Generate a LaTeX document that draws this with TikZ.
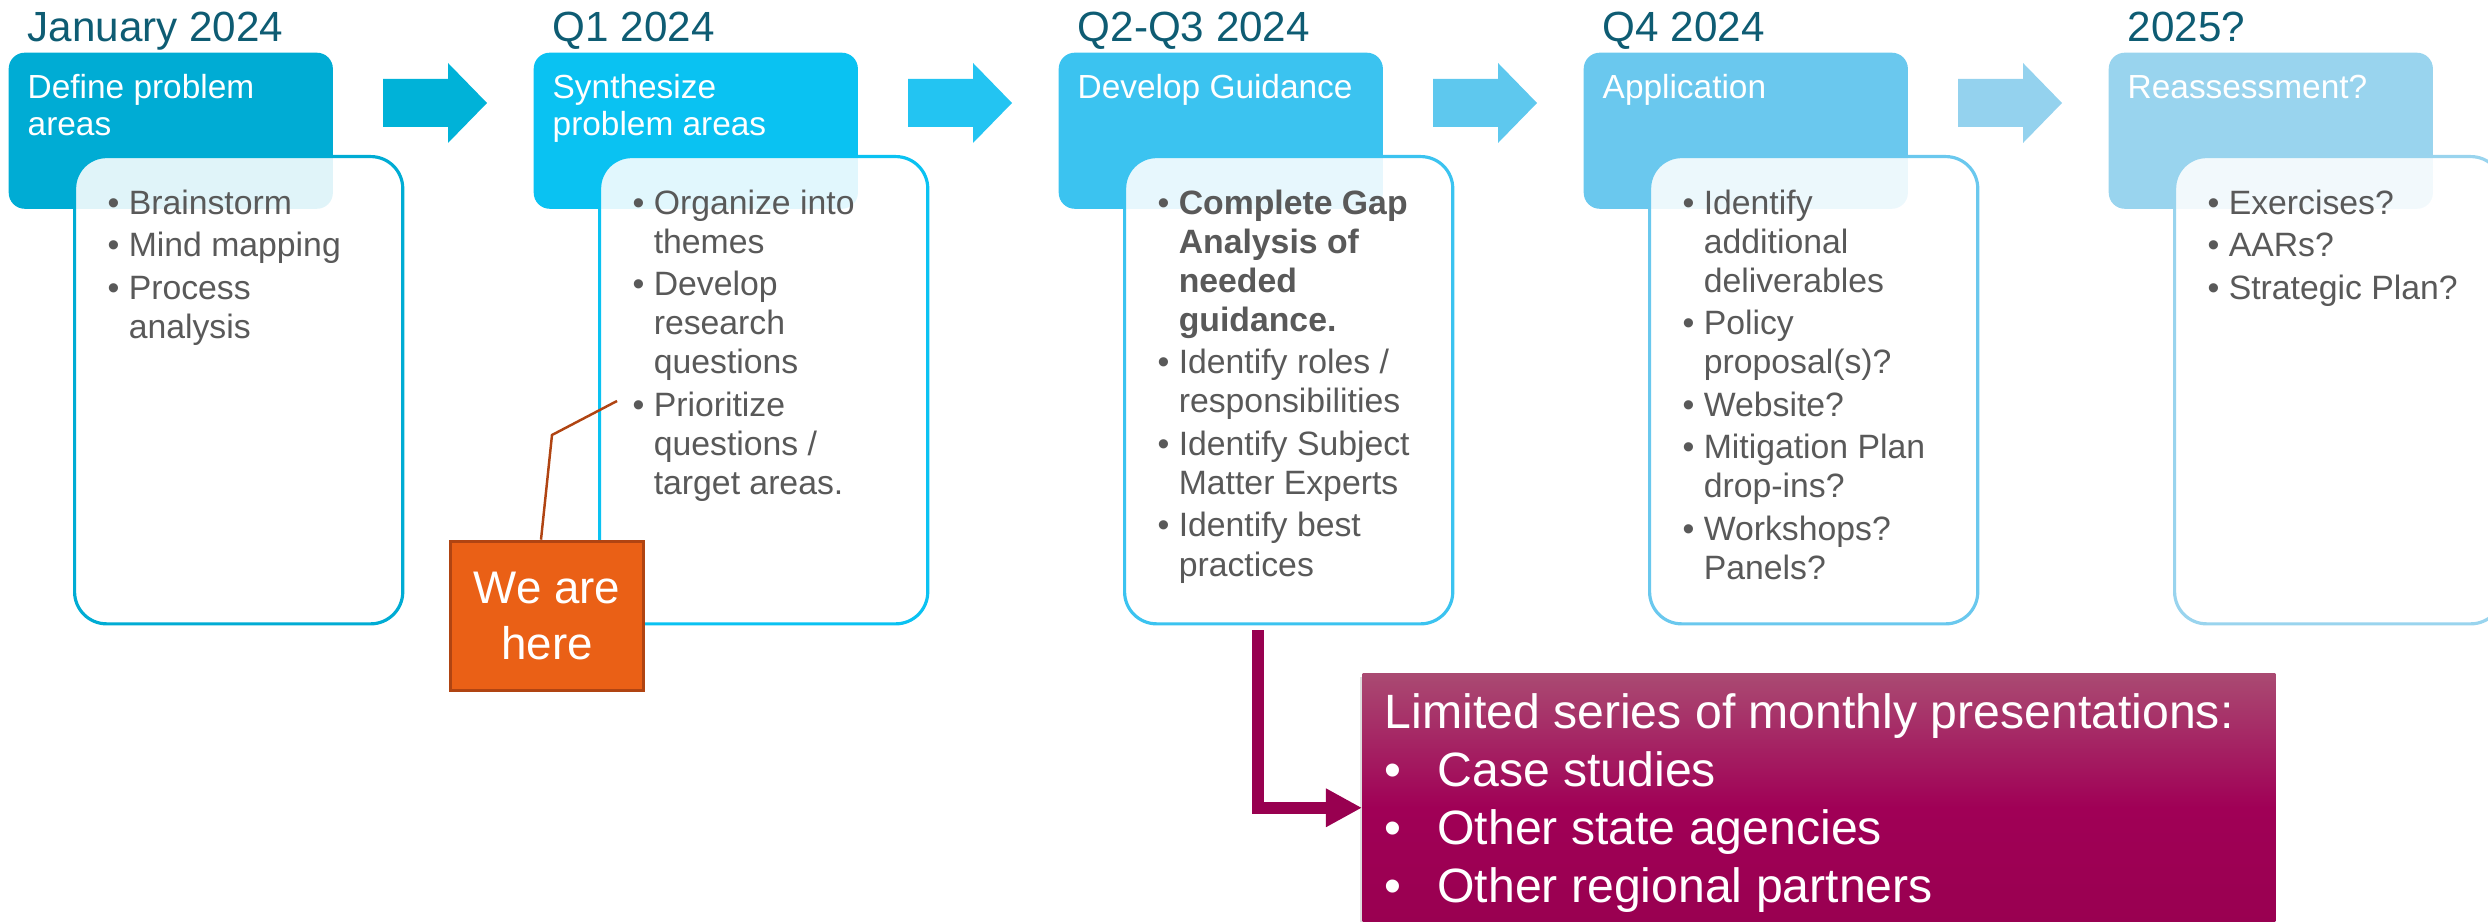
\documentclass[tikz,border=0pt]{standalone}
\usepackage{fontspec}
\setmainfont{Liberation Sans}
\usepackage{tikz}
\usetikzlibrary{arrows.meta,shadows}
\definecolor{dateblue}{RGB}{14,92,115}
\definecolor{stepA}{RGB}{0,172,212}
\definecolor{stepB}{RGB}{10,194,242}
\definecolor{stepC}{RGB}{59,195,240}
\definecolor{stepD}{RGB}{106,200,238}
\definecolor{stepE}{RGB}{153,212,238}
\definecolor{arrAB}{RGB}{0,178,216}
\definecolor{arrBC}{RGB}{35,196,242}
\definecolor{arrCD}{RGB}{94,200,238}
\definecolor{arrDE}{RGB}{148,210,238}
\definecolor{textgray}{RGB}{89,89,89}
\definecolor{hereorange}{RGB}{234,96,22}
\definecolor{hereline}{RGB}{176,68,18}
\definecolor{magtop}{RGB}{170,74,114}
\definecolor{magmid}{RGB}{160,0,86}
\definecolor{magbot}{RGB}{152,0,80}
\newcommand{\itm}{\makebox[6pt][l]{\textbullet}}
\newcommand{\cont}{\hspace*{6pt}}
\newcommand{\mitm}{\makebox[15pt][l]{\textbullet}}

\begin{document}
\begin{tikzpicture}[x=0.01cm,y=-0.01cm,
    date/.style={anchor=base west,inner sep=0,text=dateblue,font=\fontsize{12}{14}\selectfont},
    head/.style={anchor=north west,minimum width=3.24cm,minimum height=1.56cm,rounded corners=0.16cm,inner sep=0},
    headtxt/.style={anchor=north west,inner sep=0,align=left,text=white,font=\fontsize{9.5}{10.5}\selectfont},
    body/.style={anchor=north west,minimum width=3.28cm,minimum height=4.67cm,rounded corners=0.32cm,fill=white,fill opacity=0.88,line width=0.9pt,inner sep=0},
    bodytxt/.style={anchor=north west,inner sep=0,align=left,text=textgray,font=\fontsize{9.6}{11.1}\selectfont}]
  \useasboundingbox (0,0) rectangle (2488,922);

  % block arrows between the steps
  \foreach \x/\c in {8/arrAB,533/arrBC,1058/arrCD,1583/arrDE}
    \fill[\c] (\x+375,79) -- (\x+440,79) -- (\x+440,63) -- (\x+479,103) -- (\x+440,143) -- (\x+440,127) -- (\x+375,127) -- cycle;

  \node[date] (d1) at (27,42) {January 2024};
  \node[head,fill=stepA] (h1) at (8,52) {};
  \node[headtxt] (t1) at (27,74) {Define problem\\areas};
  \node[body,draw=stepA] (b1) at (73,155) {};
  \node[bodytxt] (l1) at (107,189) {\itm Brainstorm\\[1pt] \itm Mind mapping\\[1pt] \itm Process\\ \cont analysis};

  \node[date] (d2) at (552,42) {Q1 2024};
  \node[head,fill=stepB] (h2) at (533,52) {};
  \node[headtxt] (t2) at (552,74) {Synthesize\\problem areas};
  \node[body,draw=stepB] (b2) at (598,155) {};
  \node[bodytxt] (l2) at (632,189) {\itm Organize into\\ \cont themes\\[1pt] \itm Develop\\ \cont research\\ \cont questions\\[1pt] \itm Prioritize\\ \cont questions /\\ \cont target areas.};

  \node[date] (d3) at (1077,42) {Q2-Q3 2024};
  \node[head,fill=stepC] (h3) at (1058,52) {};
  \node[headtxt] (t3) at (1077,74) {Develop Guidance};
  \node[body,draw=stepC] (b3) at (1123,155) {};
  \node[bodytxt] (l3) at (1157,189) {\itm\textbf{Complete Gap}\\ \cont\textbf{Analysis of}\\ \cont\textbf{needed}\\ \cont\textbf{guidance.}\\[1pt] \itm Identify roles /\\ \cont responsibilities\\[1pt] \itm Identify Subject\\ \cont Matter Experts\\[1pt] \itm Identify best\\ \cont practices};

  \node[date] (d4) at (1602,42) {Q4 2024};
  \node[head,fill=stepD] (h4) at (1583,52) {};
  \node[headtxt] (t4) at (1602,74) {Application};
  \node[body,draw=stepD] (b4) at (1648,155) {};
  \node[bodytxt] (l4) at (1682,189) {\itm Identify\\ \cont additional\\ \cont deliverables\\[1pt] \itm Policy\\ \cont proposal(s)?\\[1pt] \itm Website?\\[1pt] \itm Mitigation Plan\\ \cont drop-ins?\\[1pt] \itm Workshops?\\ \cont Panels?};

  \node[date] (d5) at (2127,42) {2025?};
  \node[head,fill=stepE] (h5) at (2108,52) {};
  \node[headtxt] (t5) at (2127,74) {Reassessment?};
  \node[body,draw=stepE] (b5) at (2173,155) {};
  \node[bodytxt] (l5) at (2207,189) {\itm Exercises?\\[1pt] \itm AARs?\\[1pt] \itm Strategic Plan?};

  % where we are
  \node[draw=hereline,fill=hereorange,line width=1pt,minimum width=1.93cm,minimum height=1.49cm,text=white,align=center,font=\fontsize{13}{16.2}\selectfont] (here) at (547,616) {We are\\here};
  \coordinate (bend) at (552,435);
  \coordinate (ptr) at (617,401);
  \draw[hereline,line width=0.7pt] ([xshift=-0.06cm]here.north) -- (bend) -- (ptr);

  % presentations
  \node[anchor=north west,minimum width=9.12cm,minimum height=2.68cm,inner sep=0,top color=magtop,bottom color=magbot,middle color=magmid,drop shadow={shadow xshift=-0.03cm,shadow yshift=-0.03cm,opacity=0.25}] (pres) at (1362,673) {};
  \node[anchor=north west,inner sep=0,align=left,text=white,font=\fontsize{13.7}{16.5}\selectfont] (prestxt) at (1384,693) {Limited series of monthly presentations:\\ \mitm Case studies\\ \mitm Other state agencies\\ \mitm Other regional partners};
  \draw[magbot,line width=0.12cm,-{Triangle[length=0.36cm,width=0.36cm]}] ([xshift=-0.31cm,yshift=-0.05cm]b3.south) |- (pres.west);
\end{tikzpicture}
\end{document}
